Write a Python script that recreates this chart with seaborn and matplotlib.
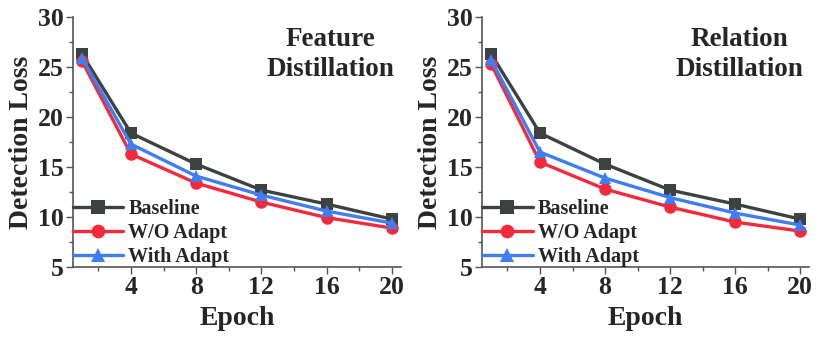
import pandas as pd
import seaborn as sns
import matplotlib.pyplot as plt
from matplotlib.ticker import MultipleLocator

# === Data ===
epochs = [1, 4, 8, 12, 16, 20]
methods = ['Baseline', 'W/O Adapt', 'With Adapt']

feat_baseline = [26.3, 18.4, 15.3, 12.7, 11.3, 9.8]
feat_wo_adapt = [25.6, 16.3, 13.4, 11.5, 9.95, 8.9]
feat_with_adapt = [25.9, 17.3, 14.1, 12.2, 10.6, 9.4]

rel_baseline = [26.3, 18.4, 15.3, 12.7, 11.3, 9.8]
rel_wo_adapt = [25.3, 15.5, 12.8, 11.0, 9.5, 8.6]
rel_with_adapt = [25.7, 16.5, 13.9, 11.95, 10.4, 9.2]

x_ticks = [4, 8, 12, 16, 20]
y_ticks = [5, 10, 15, 20, 25, 30]
panel_titles = ['Feature\nDistillation', 'Relation\nDistillation']

# === Style ===
sns.set_style('ticks')
plt.rcParams['font.family'] = ['Liberation Serif', 'DejaVu Serif']
plt.rcParams['font.weight'] = 'bold'
plt.rcParams['axes.labelweight'] = 'bold'

palette = {'Baseline': '#3e4141', 'W/O Adapt': '#f42a3c', 'With Adapt': '#3f7df2'}
markers = {'Baseline': 's', 'W/O Adapt': 'o', 'With Adapt': '^'}


def long_form(b, w, a):
    rows = []
    for name, vals in zip(methods, [b, w, a]):
        for e, v in zip(epochs, vals):
            rows.append({'Epoch': e, 'Loss': v, 'Method': name})
    return pd.DataFrame(rows)


panels = [
    long_form(feat_baseline, feat_wo_adapt, feat_with_adapt),
    long_form(rel_baseline, rel_wo_adapt, rel_with_adapt),
]

fig = plt.figure(figsize=(8.3, 3.42), dpi=100)
axes = [fig.add_axes([0.088, 0.219, 0.395, 0.731]),
        fig.add_axes([0.581, 0.219, 0.394, 0.731])]

for ax, df, title in zip(axes, panels, panel_titles):
    sns.lineplot(data=df, x='Epoch', y='Loss', hue='Method', style='Method',
                 palette=palette, markers=markers, dashes=False,
                 markersize=9, linewidth=2.4, markeredgewidth=0, ax=ax)
    ax.set_xlim(0.45, 20.55)
    ax.set_ylim(5, 30)
    ax.set_xticks(x_ticks)
    ax.set_yticks(y_ticks)
    ax.xaxis.set_minor_locator(MultipleLocator(2))
    ax.yaxis.set_minor_locator(MultipleLocator(2.5))
    ax.tick_params(axis='both', which='major', labelsize=18.5, length=5,
                   width=1, color='#555555', pad=1.5)
    ax.tick_params(axis='both', which='minor', length=3, width=1, color='#555555')
    for s in ['left', 'bottom']:
        ax.spines[s].set_color('#555555')
        ax.spines[s].set_linewidth(1.2)
    sns.despine(ax=ax)
    ax.set_xlabel('Epoch', fontsize=20, fontweight='bold', labelpad=5)
    ax.set_ylabel('Detection Loss', fontsize=20, fontweight='bold', labelpad=3)
    ax.text(0.785, 0.85, title, transform=ax.transAxes, ha='center', va='center',
            fontsize=19.5, fontweight='bold', linespacing=1.3)
    ax.legend(loc='lower left', frameon=False, title=None,
              prop={'size': 14.5, 'weight': 'bold'}, handlelength=2.5,
              handletextpad=0.25, labelspacing=0.2, borderaxespad=0.0,
              borderpad=0.0, markerscale=1.1)

fig.savefig('out.png', dpi=100)
